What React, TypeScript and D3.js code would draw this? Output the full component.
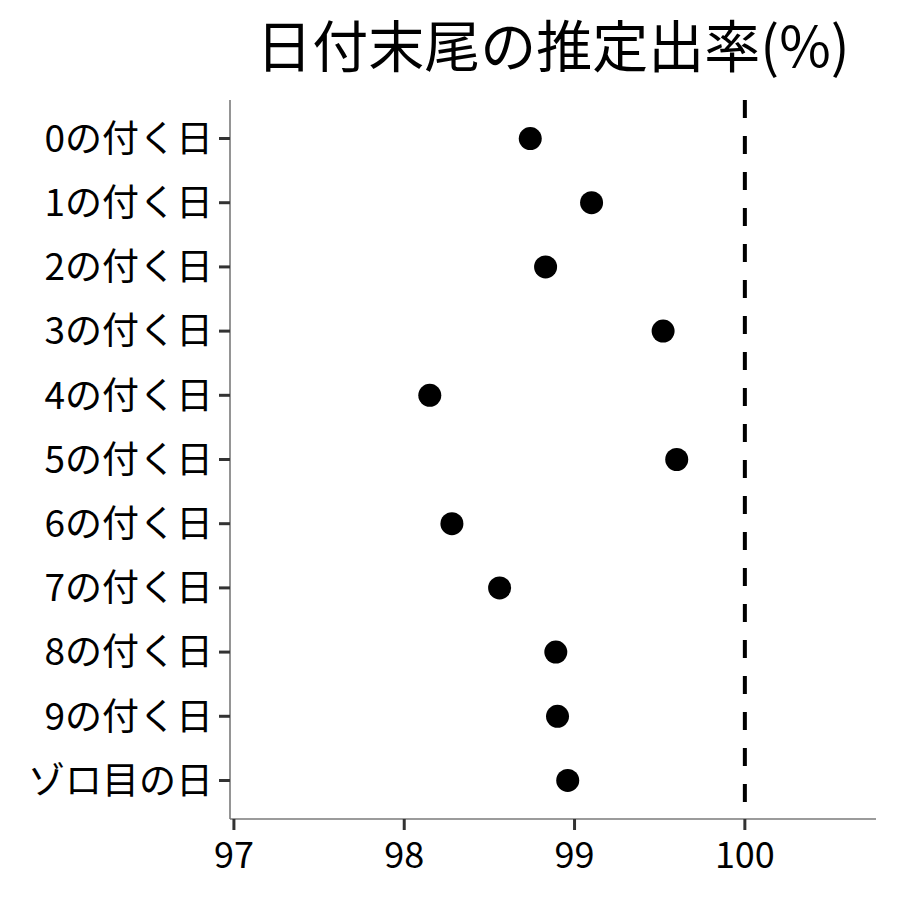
import * as d3 from 'd3'

const CATEGORIES = ['0の付く日', '1の付く日', '2の付く日', '3の付く日', '4の付く日', '5の付く日', '6の付く日', '7の付く日', '8の付く日', '9の付く日', 'ゾロ目の日']
const RATES = [98.74, 99.1, 98.83, 99.52, 98.15, 99.6, 98.28, 98.56, 98.89, 98.9, 98.96]
const X_TICKS = [97, 98, 99, 100]
const REF_LINE = 100
const TITLE = '日付末尾の推定出率(%)'

const W = 900
const H = 900
const M = { top: 100, right: 24, bottom: 81, left: 230 }
const FONT = '"Noto Sans CJK JP", "Noto Sans", sans-serif'

export default function App() {
  const x = d3.scaleLinear().domain([96.977, 100.77]).range([M.left, W - M.right])
  // ggplot-like discrete expansion: 0.6 units each side
  const step = (H - M.bottom - M.top) / (CATEGORIES.length - 1 + 1.2)
  const y = d3.scalePoint<string>().domain(CATEGORIES)
    .range([M.top + 0.6 * step, H - M.bottom - 0.6 * step])
  const bottom = H - M.bottom

  return (
    <div style={{ margin: -8 }}>
      <svg width={W} height={H} style={{ display: 'block', background: '#fff', fontFamily: FONT }}>
        <text x={553} y={67} textAnchor="middle" fontSize={56} fill="#000">{TITLE}</text>

        {/* axes */}
        <line x1={M.left} x2={M.left} y1={M.top} y2={bottom} stroke="#7a7a7a" strokeWidth={1.6} />
        <line x1={M.left} x2={W - M.right} y1={bottom} y2={bottom} stroke="#7a7a7a" strokeWidth={1.6} />

        {CATEGORIES.map((c) => (
          <g key={c}>
            <line x1={M.left - 11} x2={M.left} y1={y(c)!} y2={y(c)!} stroke="#333" strokeWidth={3} />
            <text x={M.left - 17} y={y(c)!} dy="0.36em" textAnchor="end" fontSize={37} fill="#000">{c}</text>
          </g>
        ))}

        {X_TICKS.map((t) => (
          <g key={t}>
            <line x1={x(t)} x2={x(t)} y1={bottom} y2={bottom + 11} stroke="#333" strokeWidth={3} />
            <text x={x(t)} y={bottom + 49} textAnchor="middle" fontSize={36} fill="#000">{t}</text>
          </g>
        ))}

        <line x1={x(REF_LINE)} x2={x(REF_LINE)} y1={M.top} y2={bottom} stroke="#000" strokeWidth={4} strokeDasharray="18 18" />

        {CATEGORIES.map((c, i) => (
          <circle key={c} cx={x(RATES[i])} cy={y(c)!} r={11.5} fill="#000" />
        ))}
      </svg>
    </div>
  )
}
